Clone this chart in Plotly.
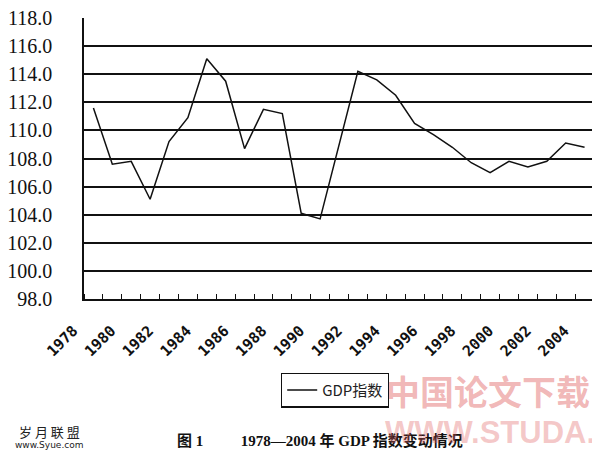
import plotly.graph_objects as go

years = list(range(1978, 2005))
gdp_index = [111.6, 107.6, 107.8, 105.1, 109.2, 110.9, 115.1, 113.5, 108.7, 111.5,
             111.2, 104.1, 103.7, 109.0, 114.2, 113.6, 112.5, 110.5, 109.7, 108.8,
             107.7, 107.0, 107.8, 107.4, 107.8, 109.1, 108.8]
label_years = list(range(1978, 2005, 2))
y_ticks = [98 + 2 * i for i in range(11)]

# page is shown with the browser's default 8px body margin
W, H = 592, 449
L, R, T, B = 76, 6, 10, 158
PW, PH = W - L - R, H - T - B
PX0, PY0 = L + 8, T + 8 + PH  # page pixel of the plot's bottom-left corner


def px(x):
    return (x - PX0) / PW


def py(y):
    return (PY0 - y) / PH


fig = go.Figure()
fig.add_trace(go.Scatter(
    x=years, y=gdp_index, mode="lines", name="GDP指数",
    line=dict(color="#111111", width=1.5),
))

fig.update_layout(
    width=W, height=H,
    margin=dict(l=L, r=R, t=T, b=B, pad=0),
    paper_bgcolor="white", plot_bgcolor="white",
    showlegend=True,
    legend=dict(
        x=px(335), y=py(390), xanchor="center", yanchor="middle",
        bordercolor="#111111", borderwidth=1.2, bgcolor="white",
        font=dict(family="Noto Sans CJK SC", size=15, color="#222222"),
        itemwidth=30,
    ),
    xaxis=dict(
        automargin=False,
        range=[1977.5, 2004.5],
        tickmode="array", tickvals=label_years,
        ticktext=["<b>%d</b>" % v for v in label_years],
        ticks="", tickangle=-45,
        ticklabelshift=-20, ticklabelstandoff=15,
        ticklabeloverflow="allow",
        tickfont=dict(family="DejaVu Sans Mono", size=15, color="#111111"),
        showgrid=False, zeroline=False,
        showline=True, linecolor="#111111", linewidth=2,
        minor=dict(tickmode="linear", tick0=1977.5, dtick=1, ticks="inside",
                   ticklen=5, tickcolor="#111111", tickwidth=1, showgrid=False),
    ),
    yaxis=dict(
        automargin=False,
        range=[98, 118],
        tickmode="array", tickvals=y_ticks,
        tickformat=".1f", ticks="",
        ticklabelstandoff=26,
        ticklabeloverflow="allow",
        tickfont=dict(family="Liberation Serif", size=20, color="#111111"),
        showgrid=True, gridcolor="#111111", gridwidth=1.8,
        zeroline=False,
        showline=True, linecolor="#111111", linewidth=1.5,
    ),
    annotations=[
        dict(text="<b>图 1          1978—2004 年 GDP 指数变动情况</b>",
             xref="paper", yref="paper", x=px(320), y=py(440),
             xanchor="center", yanchor="middle", showarrow=False,
             font=dict(family="Liberation Serif, Noto Sans CJK SC", size=15, color="#111111")),
        dict(text="<b>中国论文下载</b>",
             xref="paper", yref="paper", x=px(488), y=py(390),
             xanchor="center", yanchor="middle", showarrow=False,
             font=dict(family="Noto Sans CJK SC", size=34, color="rgba(225,95,95,0.45)")),
        dict(text="<b>WWW.STUDA.</b>",
             xref="paper", yref="paper", x=px(490), y=py(432),
             xanchor="center", yanchor="middle", showarrow=False,
             font=dict(family="Liberation Sans", size=31, color="rgba(225,95,95,0.35)")),
        dict(text="岁 月 联 盟",
             xref="paper", yref="paper", x=px(49), y=py(431),
             xanchor="center", yanchor="middle", showarrow=False,
             font=dict(family="Noto Sans CJK SC", size=13, color="#222222")),
        dict(text="www.Syue.com",
             xref="paper", yref="paper", x=px(49), y=py(445),
             xanchor="center", yanchor="middle", showarrow=False,
             font=dict(family="DejaVu Sans", size=9, color="#222222")),
    ],
)

fig.write_html("out.html")
